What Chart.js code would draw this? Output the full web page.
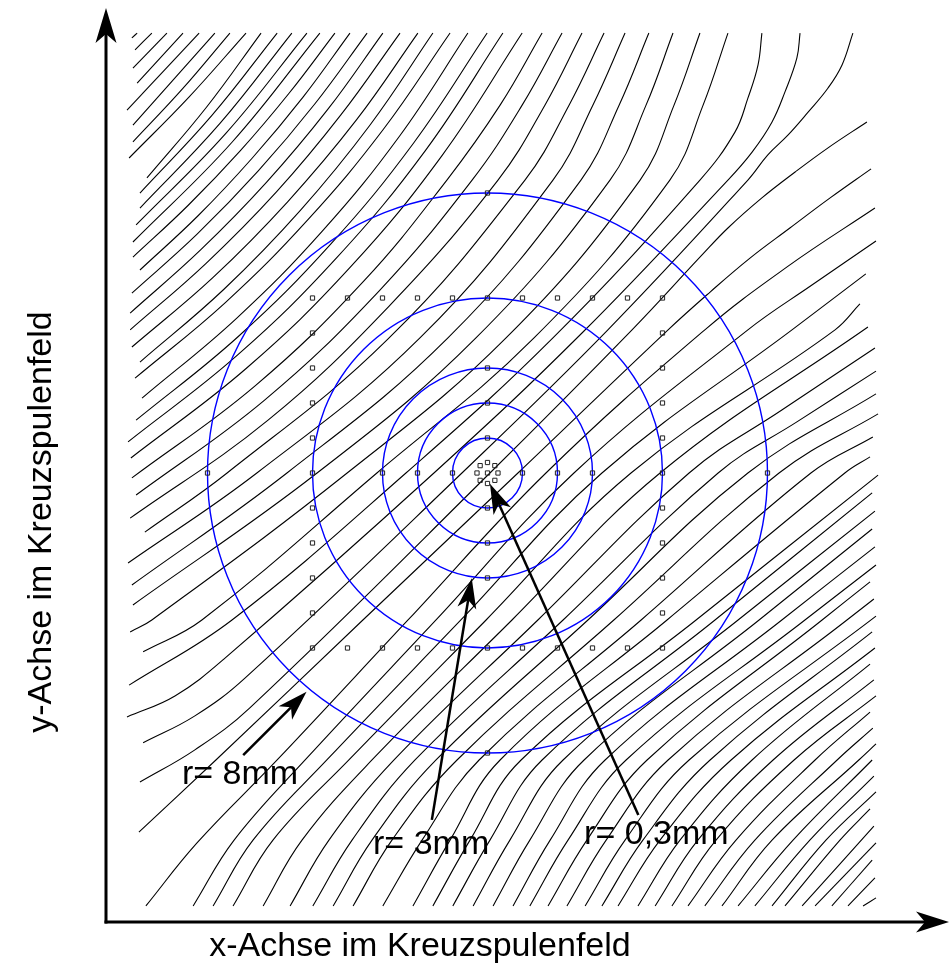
<!DOCTYPE html>
<html lang="de">
<head>
<meta charset="UTF-8"/>
<title>Feldlinien im Kreuzspulenfeld</title>
<script src="https://cdn.jsdelivr.net/npm/chart.js@4.4.1/dist/chart.umd.min.js"></script>
<style>
    html, body { margin: 0; padding: 0; background: #fff; }
    #wrap { width: 950px; height: 974px; }
</style>
</head>
<body>
<div id="wrap"><canvas id="feld" width="950" height="974"></canvas></div>
<script>
    // alle Koordinaten in mm, Mittelpunkt (0,0)
    // Kreise um den Mittelpunkt
    const circleRadii = [8, 5, 3, 2, 1];
    // Messpunkte: Quadrat +-5mm im 1mm-Raster
    const gridTicks = [-5, -4, -3, -2, -1, 0, 1, 2, 3, 4, 5];
    // Messpunkte auf den Kreisen (oben, unten, links, rechts)
    const ringRadii = [1, 2, 3, 8];
    // Messpunkte r = 0,3mm und Mitte
    const innerX = [0, 0.21, 0.3, 0.21, 0, -0.21, -0.3, -0.21, 0];
    const innerY = [0.3, 0.21, 0, -0.21, -0.3, -0.21, 0, 0.21, 0];

    // Beschriftungen mit Pfeil
    const arrowLabels = ['r= 8mm', 'r= 3mm', 'r= 0,3mm'];
    const labelX = [-8.73, -3.27, 2.76];
    const labelY = [-8.63, -10.63, -10.34];
    const arrowTailX = [-6.98, -1.59, 4.31];
    const arrowTailY = [-8.06, -9.91, -9.77];
    const arrowTipX = [-5.17, -0.45, 0.07];
    const arrowTipY = [-6.25, -3.01, -0.31];

    // Feldlinien: links rein, oben raus
    const linesLeftTop = [
        [[-10.16,12.43],[-10.01,12.57]],
        [[-10.07,12.09],[-9.59,12.57]],
        [[-10.13,11.57],[-9.16,12.57]],
        [[-10.01,11.14],[-8.70,12.57]],
        [[-10.30,10.37],[-8.24,12.57]],
        [[-10.13,9.94],[-7.79,12.57]],
        [[-10.13,9.46],[-8.71,10.98],[-7.36,12.57]],
        [[-10.24,9.00],[-8.53,10.74],[-6.90,12.57]],
        [[-9.73,8.43],[-8.03,10.45],[-6.47,12.57]],
        [[-9.93,8.00],[-7.88,10.21],[-6.01,12.57]],
        [[-9.93,7.57],[-7.65,9.98],[-5.59,12.57]],
        [[-10.04,7.09],[-7.47,9.71],[-5.16,12.57]],
        [[-10.13,6.60],[-7.30,9.45],[-4.79,12.57]],
        [[-10.13,6.17],[-8.55,7.65],[-7.06,9.21],[-5.67,10.85],[-4.36,12.57]],
        [[-9.93,5.80],[-8.27,7.35],[-6.72,9.00],[-5.27,10.74],[-3.93,12.57]],
        [[-10.16,5.14],[-8.29,6.83],[-6.55,8.63],[-4.93,10.55],[-3.44,12.57]],
        [[-10.21,4.57],[-8.19,6.38],[-6.31,8.31],[-4.57,10.38],[-2.99,12.57]],
        [[-10.21,4.09],[-8.04,5.99],[-6.03,8.03],[-4.19,10.23],[-2.50,12.57]],
        [[-10.16,3.60],[-7.84,5.59],[-5.71,7.75],[-3.75,10.08],[-1.99,12.57]],
        [[-9.93,3.17],[-7.53,5.25],[-5.34,7.51],[-3.35,9.95],[-1.56,12.57]],
        [[-10.07,2.71],[-7.49,4.87],[-5.13,7.24],[-2.99,9.80],[-1.07,12.57]],
        [[-9.87,2.14],[-7.17,4.42],[-4.72,6.91],[-2.51,9.63],[-0.56,12.57]],
        [[-10.04,1.51],[-7.12,3.90],[-4.48,6.54],[-2.11,9.43],[-0.01,12.57]],
        [[-10.27,0.89],[-7.13,3.38],[-4.30,6.16],[-1.77,9.22],[0.44,12.57]],
        [[-10.19,0.43],[-6.88,3.00],[-3.92,5.88],[-1.30,9.07],[0.99,12.57]],
        [[-10.16,-0.14],[-6.64,2.49],[-3.53,5.49],[-1.16,8.37],[0.36,10.51],[1.56,12.57]],
        [[-10.04,-0.63],[-6.36,2.09],[-3.10,5.20],[-0.44,8.37],[0.99,10.51],[2.13,12.57]],
        [[-10.21,-1.29],[-6.27,1.51],[-2.81,4.77],[0.30,8.37],[1.64,10.51],[2.70,12.57]],
        [[-9.79,-1.69],[-7.44,0],[-2.84,3.83],[1.07,8.37],[2.33,10.51],[3.33,12.57]],
        [[-10.27,-2.57],[-6.59,0],[-1.93,3.86],[1.87,8.37],[3.01,10.51],[3.93,12.57]],
        [[-10.16,-3.20],[-5.73,0],[-1.13,3.86],[2.67,8.37],[3.76,10.51],[4.61,12.57]],
        [[-10.13,-3.77],[-4.87,0],[-0.33,3.86],[3.50,8.37],[4.53,10.51],[5.30,12.57]],
        [[-10.21,-4.54],[-9.59,-4.20],[-4.01,0],[0.53,3.86],[4.36,8.37],[5.33,10.51],[6.07,12.57]],
        [[-9.84,-5.11],[-8.16,-4.20],[-3.16,0],[1.33,3.86],[5.21,8.37],[6.16,10.51],[6.87,12.57]],
        [[-10.24,-6.06],[-7.30,-4.20],[-2.33,0],[1.87,3.86],[6.07,8.37],[7.07,9.74],[7.44,10.71],[7.73,11.66],[7.84,12.57]],
        [[-10.30,-6.97],[-8.93,-6.37],[-7.50,-5.29],[-1.53,0],[2.70,4.00],[6.87,8.37],[7.56,9.17],[8.13,10.03],[8.50,10.89],[8.84,11.86],[8.93,12.57]],
        [[-9.84,-7.71],[-8.36,-6.94],[-6.93,-5.86],[-0.73,0],[3.44,4.09],[7.44,8.37],[8.01,9.09],[8.59,9.66],[9.16,10.31],[9.73,11.00],[10.13,11.66],[10.44,12.57]]
    ];
    // links rein, rechts raus
    const linesLeftRight = [
        [[-9.93,-8.83],[-8.36,-7.91],[-6.79,-6.71],[0.07,0],[4.13,4.09],[6.13,6.23],[6.87,7.00],[7.84,7.86],[8.79,8.60],[9.73,9.29],[10.84,10.03]],
        [[-9.96,-10.26],[-7.76,-8.20],[-3.56,-4.20],[0.87,0],[5.16,4.09],[6.36,5.17],[7.50,6.14],[8.64,7.00],[9.79,7.86],[10.96,8.69]]
    ];
    // unten rein, rechts raus
    const linesBottomRight = [
        [[-9.76,-12.37],[-8.30,-10.57],[-6.01,-8.20],[-2.27,-4.20],[1.67,0],[6.21,4.09],[8.59,5.91],[11.07,7.57]],
        [[-8.41,-12.37],[-7.24,-10.49],[-5.21,-8.20],[-1.47,-4.20],[2.47,0],[7.44,4.09],[9.27,5.37],[11.10,6.63]],
        [[-7.84,-12.37],[-6.70,-10.49],[-4.59,-8.20],[-0.76,-4.20],[3.27,0],[8.70,4.09],[10.81,5.69]],
        [[-7.27,-12.37],[-6.13,-10.49],[-3.96,-8.20],[-0.04,-4.20],[4.10,0],[9.93,4.09],[10.64,4.83]],
        [[-6.41,-12.37],[-5.30,-10.49],[-3.30,-8.20],[0.70,-4.20],[4.93,0],[10.87,4.17]],
        [[-5.64,-12.37],[-4.53,-10.49],[-2.67,-8.20],[1.44,-4.20],[5.76,0],[8.41,1.80],[11.07,3.57]],
        [[-4.99,-12.37],[-3.87,-10.49],[-2.07,-8.20],[2.16,-4.20],[6.59,0],[8.84,1.46],[11.10,2.91]],
        [[-4.41,-12.37],[-3.30,-10.49],[-1.47,-8.20],[2.87,-4.20],[7.44,0],[11.10,2.26]],
        [[-3.84,-12.37],[-2.73,-10.49],[-0.87,-8.20],[3.61,-4.20],[8.33,0],[11.16,1.69]],
        [[-2.99,-12.37],[-1.87,-10.49],[-0.24,-8.20],[4.39,-4.20],[9.24,0],[11.01,1.03]],
        [[-2.13,-12.37],[-1.07,-10.49],[0.36,-8.20],[5.13,-4.20],[10.21,0],[10.93,0.46]],
        [[-1.56,-12.37],[-0.50,-10.49],[0.96,-8.20],[5.96,-4.20],[11.16,-0.06]],
        [[-0.99,-12.37],[0.07,-10.49],[1.56,-8.20],[6.50,-4.20],[10.99,-0.57]],
        [[-0.41,-12.37],[0.64,-10.49],[2.16,-8.20],[7.16,-4.20],[11.07,-1.09]],
        [[0.16,-12.37],[1.21,-10.49],[2.76,-8.20],[7.76,-4.20],[10.99,-1.60]],
        [[0.73,-12.37],[1.79,-10.49],[3.36,-8.20],[8.41,-4.20],[11.07,-2.11]],
        [[1.21,-12.37],[2.30,-10.49],[3.96,-8.20],[9.07,-4.20],[11.10,-2.63]],
        [[1.73,-12.37],[2.84,-10.49],[4.56,-8.20],[9.56,-4.20],[10.93,-3.11]],
        [[2.27,-12.37],[3.39,-10.49],[5.16,-8.20],[10.27,-4.20],[11.04,-3.60]],
        [[2.79,-12.37],[3.93,-10.49],[5.76,-8.20],[11.10,-4.09]],
        [[3.27,-12.37],[4.44,-10.49],[6.36,-8.20],[10.99,-4.54]],
        [[3.73,-12.37],[4.93,-10.49],[6.96,-8.20],[11.07,-5.00]],
        [[4.30,-12.37],[5.50,-10.49],[7.56,-8.20],[10.93,-5.46]],
        [[4.79,-12.37],[6.01,-10.49],[8.16,-8.20],[11.04,-5.91]],
        [[5.27,-12.37],[6.53,-10.49],[8.76,-8.20],[11.10,-6.37]],
        [[5.73,-12.37],[7.10,-10.49],[9.36,-8.20],[10.93,-6.83]],
        [[6.21,-12.37],[7.64,-10.49],[9.99,-8.20],[11.01,-7.29]],
        [[6.70,-12.37],[8.13,-10.49],[10.61,-8.20],[11.10,-7.74]],
        [[7.16,-12.37],[8.73,-10.49],[10.99,-8.20]],
        [[7.64,-12.37],[9.21,-10.49],[11.04,-8.66]],
        [[8.13,-12.37],[9.67,-10.49],[11.10,-9.11]],
        [[8.50,-12.37],[10.07,-10.49],[10.93,-9.60]],
        [[8.99,-12.37],[11.04,-10.09]],
        [[9.36,-12.37],[11.10,-10.57]],
        [[9.84,-12.37],[10.99,-11.06]],
        [[10.30,-12.37],[11.07,-11.57]],
        [[10.73,-12.37],[11.10,-12.14]]
    ];

    const markers = [];
    gridTicks.forEach(t => {
        markers.push({x: t, y: 5}, {x: t, y: -5});
        if (Math.abs(t) !== 5) markers.push({x: -5, y: t}, {x: 5, y: t});
    });
    ringRadii.forEach(r => {
        markers.push({x: 0, y: r}, {x: 0, y: -r}, {x: -r, y: 0}, {x: r, y: 0});
    });
    innerX.forEach((x, i) => markers.push({x: x, y: innerY[i]}));

    const allLines = linesLeftTop.concat(linesLeftRight, linesBottomRight);
    const datasets = allLines.map(pts => ({
        data: pts.map(p => ({x: p[0], y: p[1]})),
        showLine: true,
        pointRadius: 0,
        borderColor: '#000',
        borderWidth: 1.1,
        tension: 0.4,
        order: 2
    }));
    const markerIdx = datasets.length;
    datasets.push({
        data: markers,
        pointStyle: 'rect',
        pointRadius: 3,
        borderColor: '#222',
        borderWidth: 1,
        backgroundColor: 'rgba(0,0,0,0)',
        order: 0
    });

    function arrow(ctx, x1, y1, x2, y2, w, len, half, notch) {
        const a = Math.atan2(y2 - y1, x2 - x1);
        const ux = Math.cos(a), uy = Math.sin(a);
        const bx = x2 - ux * len, by = y2 - uy * len;
        const nx = x2 - ux * (len - notch), ny = y2 - uy * (len - notch);
        ctx.lineWidth = w;
        ctx.beginPath();
        ctx.moveTo(x1, y1);
        ctx.lineTo(nx, ny);
        ctx.stroke();
        ctx.beginPath();
        ctx.moveTo(x2, y2);
        ctx.lineTo(bx - uy * half, by + ux * half);
        ctx.lineTo(nx, ny);
        ctx.lineTo(bx + uy * half, by - ux * half);
        ctx.closePath();
        ctx.fill();
    }

    const textFont = '34px "Liberation Sans", Arial, sans-serif';
    const overlay = {
        id: 'overlay',
        beforeDatasetDraw(chart, args) {
            if (args.index !== markerIdx) return;
            const {ctx, scales: {x, y}} = chart;
            const cx = x.getPixelForValue(0), cy = y.getPixelForValue(0);
            ctx.save();
            ctx.strokeStyle = '#0000ff';
            ctx.lineWidth = 1.4;
            circleRadii.forEach(r => {
                const rx = x.getPixelForValue(r) - cx;
                const ry = cy - y.getPixelForValue(r);
                ctx.beginPath();
                ctx.ellipse(cx, cy, rx, ry, 0, 0, Math.PI * 2);
                ctx.stroke();
            });
            ctx.restore();
        },
        afterDatasetsDraw(chart) {
            const {ctx, chartArea: ca, scales: {x, y}} = chart;
            ctx.save();
            ctx.strokeStyle = '#000';
            ctx.fillStyle = '#000';
            // Achsen mit Pfeilspitze
            arrow(ctx, ca.left - 1.5, ca.bottom, 949, ca.bottom, 3, 33, 10.5, 9);
            arrow(ctx, ca.left, ca.bottom + 1.5, ca.left, ca.top, 3, 35, 10.5, 9);
            ctx.font = textFont;
            ctx.textAlign = 'center';
            ctx.textBaseline = 'middle';
            ctx.fillText('x-Achse im Kreuzspulenfeld', ca.left + 314, ca.bottom + 25);
            ctx.save();
            ctx.translate(42, ca.top + 514);
            ctx.rotate(-Math.PI / 2);
            ctx.fillText('y-Achse im Kreuzspulenfeld', 0, 0);
            ctx.restore();
            // Beschriftungen
            arrowLabels.forEach((t, i) => {
                arrow(ctx, x.getPixelForValue(arrowTailX[i]), y.getPixelForValue(arrowTailY[i]),
                    x.getPixelForValue(arrowTipX[i]), y.getPixelForValue(arrowTipY[i]), 2.5, 30, 9.5, 8);
                ctx.textAlign = 'left';
                ctx.fillText(t, x.getPixelForValue(labelX[i]), y.getPixelForValue(labelY[i]));
            });
            ctx.restore();
        }
    };

    new Chart(document.getElementById('feld'), {
        type: 'scatter',
        data: {datasets: datasets},
        options: {
            responsive: false,
            animation: false,
            layout: {padding: {left: 106, right: 8, top: 8, bottom: 52}},
            plugins: {legend: {display: false}, tooltip: {enabled: false}},
            scales: {
                x: {type: 'linear', display: false, min: -10.9, max: 12.986},
                y: {type: 'linear', display: false, min: -12.829, max: 13.286}
            }
        },
        plugins: [overlay]
    });
</script>
</body>
</html>
